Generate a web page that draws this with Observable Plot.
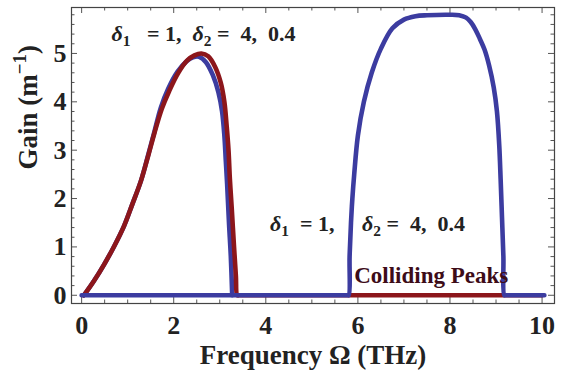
<!DOCTYPE html>
<html><head><meta charset="utf-8">
<script src="https://cdn.jsdelivr.net/npm/d3@7"></script>
<script src="https://cdn.jsdelivr.net/npm/@observablehq/plot@0.6"></script>
<style>body{margin:0;background:#fff}#chart{position:absolute;left:0;top:0}</style>
</head><body><div id="chart"></div>
<script>
// ---- data ----
const redX = [0.05,0.27,0.49,0.71,0.92,1.1,1.29,1.45,1.58,1.74,1.9,2.1,2.3,2.45,2.6,2.75,2.9,3.02,3.1,3.15,3.19,3.22,3.26,3.31,3.35,3.38,3.42,10.0];
const redY = [0,0.3,0.64,1.02,1.43,1.88,2.37,2.9,3.35,3.85,4.22,4.6,4.86,4.96,5.0,4.94,4.72,4.4,4.0,3.5,3.0,2.4,1.8,1.0,0.4,0,0,0];
const blue1X = [0.05,0.27,0.49,0.71,0.92,1.1,1.29,1.45,1.58,1.72,1.88,2.08,2.28,2.42,2.55,2.7,2.85,2.97,3.05,3.1,3.13,3.16,3.2,3.24,3.27];
const blue1Y = [0,0.3,0.64,1.02,1.43,1.88,2.37,2.92,3.38,3.88,4.27,4.62,4.84,4.92,4.93,4.82,4.55,4.2,3.8,3.3,2.8,2.3,1.5,0.8,0];
const blue2X = [0,5.77,5.80,5.82,5.85,5.88,5.92,6.0,6.13,6.3,6.5,6.75,7.0,7.25,7.5,8.0,8.2,8.35,8.45,8.55,8.65,8.75,8.85,8.95,9.02,9.07,9.1,9.13,9.16,9.18,9.21,10.05];
const blue2Y = [0,0,0,0.8,1.5,2.0,2.5,3.3,4.0,4.6,5.1,5.52,5.7,5.77,5.79,5.8,5.79,5.74,5.65,5.5,5.3,5.08,4.75,4.3,3.8,3.1,2.4,1.6,0.8,0,0,0];
const xMajor = [0,2,4,6,8,10];
const xMinor = [0.5,1,1.5,2.5,3,3.5,4.5,5,5.5,6.5,7,7.5,8.5,9,9.5];
const yMajor = [0,1,2,3,4,5];
const yMinor = [0.2,0.4,0.6,0.8,1.2,1.4,1.6,1.8,2.2,2.4,2.6,2.8,3.2,3.4,3.6,3.8,4.2,4.4,4.6,4.8,5.2,5.4,5.6,5.8];
const xTitle = "Frequency \u03A9 (THz)";
const yTitle = "Gain (m-1)";
const note1 = "d1 = 1, d2 = 4, 0.4 (top)";
const note2 = "d1 = 1, d2 = 4, 0.4 (mid)";
const note3 = "Colliding Peaks";

// ---- layout ----
const W = 562, H = 382, mL = 71, mR = 8, mT = 7, mB = 79;
const innerH = H - mT - mB, innerW = W - mL - mR;
const serif = "Liberation Serif";
const RED = "#8c161b", BLUE = "#3c3ca0";
const pts = (xs, ys) => xs.map((x, i) => ({x, y: ys[i]}));
const tk = "#555";
const txt = {fontFamily: serif, fontWeight: "bold"};

const plot = Plot.plot({
  width: W, height: H,
  marginLeft: mL, marginRight: mR, marginTop: mT, marginBottom: mB,
  x: {domain: [-0.22, 10.27]},
  y: {domain: [-0.17, 5.95]},
  style: {fontFamily: serif, fontWeight: "bold", background: "white", color: "#222"},
  marks: [
    Plot.tickX(xMajor, {x: d => d, insetTop: innerH - 6, stroke: tk}),
    Plot.tickX(xMinor, {x: d => d, insetTop: innerH - 3.5, stroke: tk}),
    Plot.tickX(xMajor, {x: d => d, insetBottom: innerH - 6, stroke: tk}),
    Plot.tickX(xMinor, {x: d => d, insetBottom: innerH - 3.5, stroke: tk}),
    Plot.tickY(yMajor, {y: d => d, insetRight: innerW - 6, stroke: tk}),
    Plot.tickY(yMinor, {y: d => d, insetRight: innerW - 3.5, stroke: tk}),
    Plot.tickY(yMajor, {y: d => d, insetLeft: innerW - 6, stroke: tk}),
    Plot.tickY(yMinor, {y: d => d, insetLeft: innerW - 3.5, stroke: tk}),
    Plot.frame({stroke: "#444", strokeWidth: 1.2}),
    Plot.axisX({...txt, ticks: xMajor, tickSize: 0, tickPadding: 12, fontSize: 26, tickFormat: d => String(d), label: null}),
    Plot.axisY({...txt, ticks: yMajor, tickSize: 0, tickPadding: 5, fontSize: 26, tickFormat: d => String(d), label: null}),
    Plot.line(pts(blue1X, blue1Y), {x: "x", y: "y", stroke: BLUE, strokeWidth: 4.6, curve: "catmull-rom"}),
    Plot.line(pts(redX, redY), {x: "x", y: "y", stroke: RED, strokeWidth: 4.6, curve: "catmull-rom"}),
    Plot.line(pts(blue2X, blue2Y), {x: "x", y: "y", stroke: BLUE, strokeWidth: 4.6, curve: "catmull-rom"}),
    Plot.text([xTitle], {...txt, frameAnchor: "bottom", dy: 60, fontSize: 27, fill: "#222"}),
    Plot.text([yTitle], {...txt, frameAnchor: "left", dx: -43, dy: 14, rotate: -90, fontSize: 27, fill: "#222"}),
    Plot.text([note1], {...txt, x: 0.65, y: 5.25, textAnchor: "start", lineAnchor: "bottom", fontSize: 22, fill: "#222"}),
    Plot.text([note2], {...txt, x: 4.09, y: 1.33, textAnchor: "start", lineAnchor: "bottom", fontSize: 22, fill: "#222"}),
    Plot.text([note3], {...txt, x: 5.92, y: 0.26, textAnchor: "start", lineAnchor: "bottom", fontSize: 23, fill: "#3d0c18"})
  ]
});

// rich text: italic delta, subscripts, superscript (non-breaking spaces keep the gaps)
const NS = "http://www.w3.org/2000/svg";
const sp = n => "\u00A0".repeat(n);
const rich = {
  [note1]: [["\u03B4", "i"], ["1", "sub"], [sp(3) + "=" + sp(1) + "1," + sp(2)], ["\u03B4", "i"], ["2", "sub"], [sp(1) + "=" + sp(2) + "4," + sp(2) + "0.4"]],
  [note2]: [["\u03B4", "i"], ["1", "sub"], [sp(2) + "=" + sp(1) + "1," + sp(5)], ["\u03B4", "i"], ["2", "sub"], [sp(1) + "=" + sp(2) + "4," + sp(2) + "0.4"]],
  [yTitle]: [["Gain (m"], ["\u22121", "sup"], [")"]]
};
plot.querySelectorAll("text").forEach(t => {
  const segs = rich[t.textContent];
  if (!segs) return;
  t.textContent = "";
  const fs = parseFloat(t.getAttribute("font-size") || t.parentNode.getAttribute("font-size") || 20);
  let shift = 0;
  segs.forEach(([s, k]) => {
    const ts = document.createElementNS(NS, "tspan");
    ts.textContent = s;
    let target = 0;
    if (k === "i") ts.setAttribute("font-style", "italic");
    if (k === "sub") { ts.setAttribute("font-size", fs * 0.7); target = fs * 0.22; }
    if (k === "sup") { ts.setAttribute("font-size", fs * 0.7); target = -fs * 0.42; }
    ts.setAttribute("dy", target - shift);
    shift = target;
    t.appendChild(ts);
  });
});
document.getElementById("chart").appendChild(plot);
</script>
</body></html>
